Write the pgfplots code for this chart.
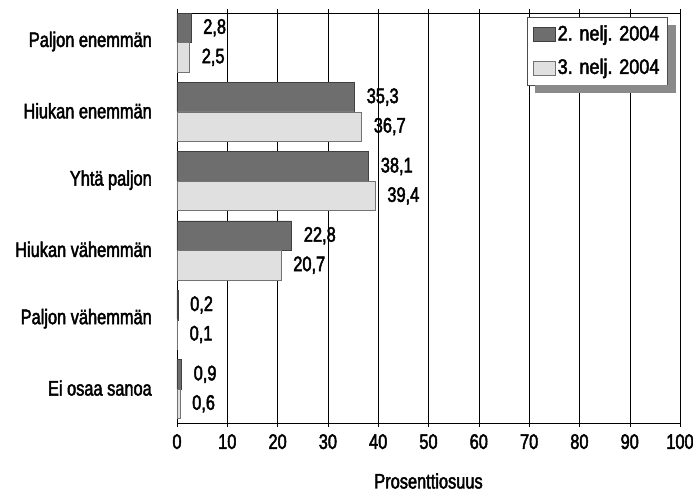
\documentclass[border=0pt]{standalone}
\usepackage{pgfplots}
\pgfplotsset{compat=1.18}
\usepackage{fontspec}
\setmainfont{Liberation Sans}[FakeStretch=0.78, FakeBold=2.2]
\newfontfamily\legfamily{Liberation Sans}[FakeStretch=0.86, FakeBold=2.2]
\usetikzlibrary{calc}

\definecolor{darkbar}{HTML}{6E6E6E}
\definecolor{lightbar}{HTML}{E0E0E0}
\definecolor{shadowgray}{HTML}{8A8A8A}

\newcommand{\lblfont}{\fontsize{21}{24}\selectfont}

\begin{document}
\lblfont
\begin{tikzpicture}
\begin{axis}[
    scale only axis,
    width=503pt, height=410pt,
    xbar,
    y dir=reverse,
    xmin=0, xmax=100,
    ymin=-0.426, ymax=5.49,
    bar width=0.425,
    xtick={0,10,...,100},
    ytick={0,1,2,3,4,5},
    yticklabels={Paljon enemmän,Hiukan enemmän,Yhtä paljon,Hiukan vähemmän,Paljon vähemmän,Ei osaa sanoa},
    ytick style={draw=none},
    yticklabel style={xshift=-14pt, yshift=1pt},
    tick align=outside,
    xtick style={black, thin},
    major tick length=4pt,
    xmajorgrids,
    grid style={black, thin},
    axis line style={black, thin},
    xlabel={Prosenttiosuus},
    xlabel style={yshift=-10pt},
    ticklabel style={font=\lblfont},
    label style={font=\lblfont},
    /pgf/number format/assume math mode=true,
    nodes near coords={\pgfmathprintnumber[fixed, fixed zerofill, precision=1, use comma]{\pgfplotspointmeta}},
    nodes near coords align={horizontal},
    every node near coord/.append style={anchor=west, xshift=5pt, black, font=\lblfont},
    legend style={
        name=leg,
        at={(0.696,0.99)}, anchor=north west,
        draw=black!70, fill=white,
        font=\legfamily\lblfont,
        inner xsep=6pt, inner ysep=6pt,
        row sep=11pt,
        legend cell align=left,
    },
    legend image code/.code={
        \draw[#1] (0pt,-7pt) rectangle (22pt,7pt);
    },
]
\coordinate (sw) at (rel axis cs:0,0);
\addplot[fill=darkbar, draw=black!75, bar shift=-0.2125] coordinates {
    (2.8,0) (35.3,1) (38.1,2) (22.8,3) (0.2,4) (0.9,5)
};
\addlegendentry{2. nelj. 2004}
\addplot[fill=lightbar, draw=black!55, bar shift=0.2125] coordinates {
    (2.5,0) (36.7,1) (39.4,2) (20.7,3) (0.1,4) (0.6,5)
};
\addlegendentry{3. nelj. 2004}
\end{axis}
% legend shadow
\fill[shadowgray] ($(leg.north east)+(0pt,-8pt)$) rectangle ($(leg.south east)+(8pt,-8pt)$);
\fill[shadowgray] ($(leg.south west)+(8pt,0pt)$) rectangle ($(leg.south east)+(8pt,-8pt)$);
\pgfresetboundingbox
\path ($(sw)+(-177pt,-72pt)$) rectangle ($(sw)+(516pt,423pt)$);
\end{tikzpicture}
\end{document}
